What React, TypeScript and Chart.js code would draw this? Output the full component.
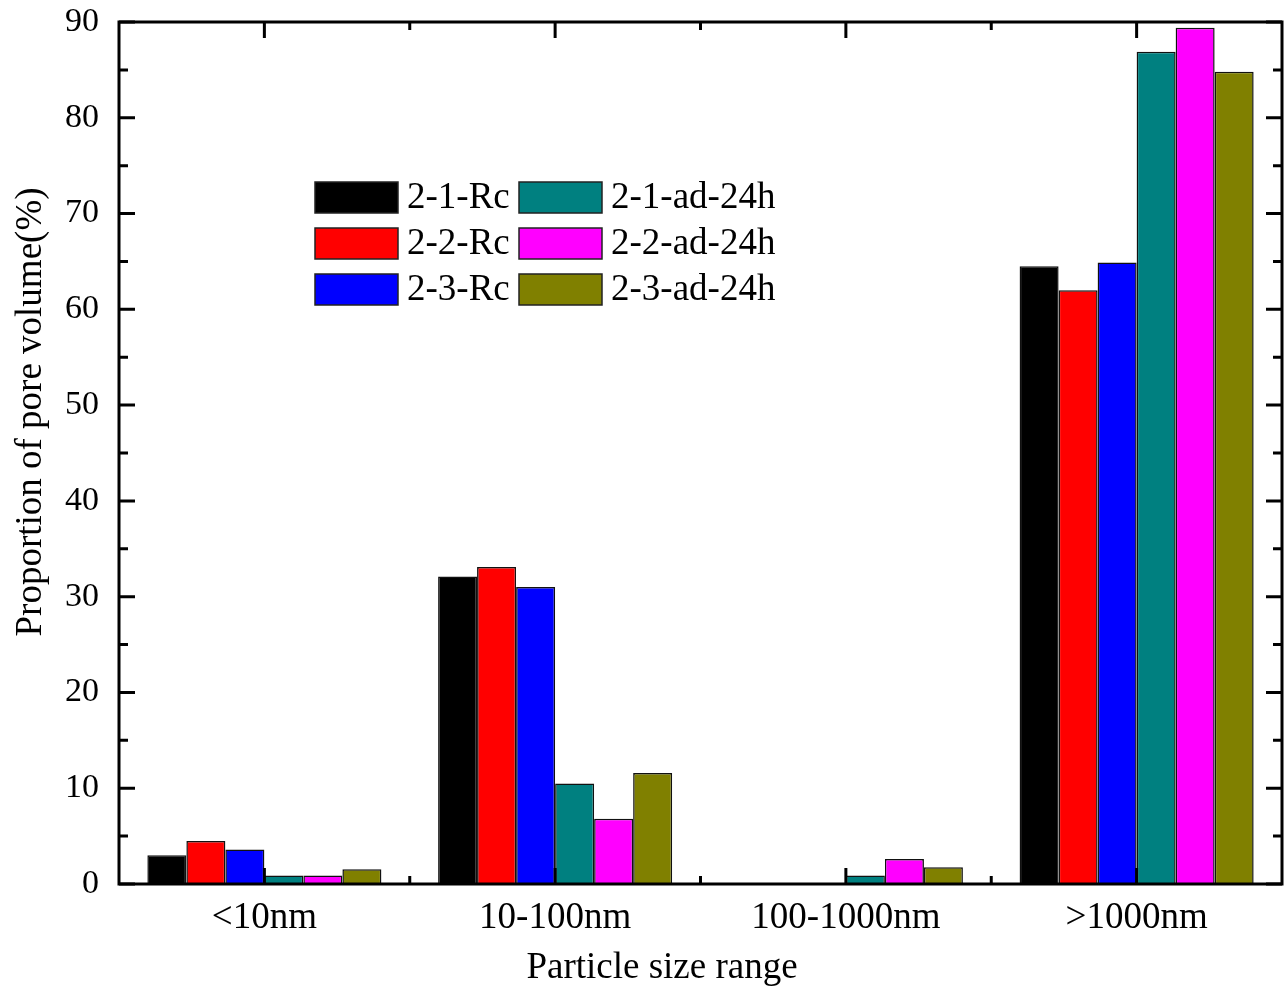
import React, { useEffect, useRef } from "react";
import { Chart, registerables } from "chart.js";

Chart.register(...registerables);

const categories = ["<10nm", "10-100nm", "100-1000nm", ">1000nm"];
const seriesNames = ["2-1-Rc", "2-2-Rc", "2-3-Rc", "2-1-ad-24h", "2-2-ad-24h", "2-3-ad-24h"];
const seriesColors = ["#000000", "#FF0000", "#0000FF", "#008080", "#FF00FF", "#808000"];
const s21Rc = [3.0, 32.1, 0, 64.5];
const s22Rc = [4.5, 33.1, 0, 62.0];
const s23Rc = [3.6, 31.0, 0, 64.9];
const s21ad = [0.9, 10.5, 0.9, 86.9];
const s22ad = [0.9, 6.8, 2.6, 89.4];
const s23ad = [1.55, 11.6, 1.75, 84.8];
const seriesValues = [s21Rc, s22Rc, s23Rc, s21ad, s22ad, s23ad];
const yTicks = [0, 10, 20, 30, 40, 50, 60, 70, 80, 90];
const xTitle = "Particle size range";
const yTitle = "Proportion of pore volume(%)";

const FONT = "'Liberation Serif', 'Times New Roman', serif";

const framePlugin = {
  id: "framePlugin",
  afterDraw(chart: any) {
    const { ctx, chartArea } = chart;
    const { left, right, top, bottom } = chartArea;
    const x = chart.scales.x;
    const y = chart.scales.y;
    ctx.save();
    ctx.strokeStyle = "#000";
    ctx.lineWidth = 3;
    ctx.lineCap = "butt";
    ctx.beginPath();
    ctx.rect(left, top, right - left, bottom - top);
    ctx.stroke();
    ctx.beginPath();
    for (let v = 0; v <= 90; v += 5) {
      const py = y.getPixelForValue(v);
      const len = v % 10 === 0 ? 16 : 9;
      ctx.moveTo(left, py);
      ctx.lineTo(left + len, py);
      ctx.moveTo(right, py);
      ctx.lineTo(right - len, py);
    }
    for (let i = 0; i < categories.length; i++) {
      const px = x.getPixelForValue(i);
      ctx.moveTo(px, bottom);
      ctx.lineTo(px, bottom - 16);
      ctx.moveTo(px, top);
      ctx.lineTo(px, top + 16);
      if (i < categories.length - 1) {
        const mx = (px + x.getPixelForValue(i + 1)) / 2;
        ctx.moveTo(mx, bottom);
        ctx.lineTo(mx, bottom - 8);
        ctx.moveTo(mx, top);
        ctx.lineTo(mx, top + 8);
      }
    }
    ctx.stroke();

    // axis titles
    ctx.fillStyle = "#000";
    ctx.font = `37px ${FONT}`;
    ctx.textAlign = "center";
    ctx.textBaseline = "middle";
    ctx.fillText(xTitle, 662, 968);
    ctx.save();
    ctx.translate(31, 412);
    ctx.rotate(-Math.PI / 2);
    ctx.fillText(yTitle, 0, 0);
    ctx.restore();

    // legend
    const boxW = 83;
    const boxH = 31;
    const colX = [315, 519];
    const rowY = [182, 228, 274];
    ctx.font = `37px ${FONT}`;
    ctx.textBaseline = "middle";
    ctx.textAlign = "left";
    for (let i = 0; i < seriesNames.length; i++) {
      const col = Math.floor(i / 3);
      const row = i % 3;
      const bx = colX[col];
      const by = rowY[row];
      ctx.fillStyle = seriesColors[i];
      ctx.fillRect(bx, by, boxW, boxH);
      ctx.lineWidth = 1.5;
      ctx.strokeStyle = "#222";
      ctx.strokeRect(bx, by, boxW, boxH);
      ctx.fillStyle = "#000";
      ctx.fillText(seriesNames[i], bx + boxW + 9, by + boxH / 2 + 1);
    }
    ctx.restore();
  },
};

export default function App() {
  const ref = useRef<HTMLCanvasElement>(null);
  useEffect(() => {
    document.body.style.margin = "0";
    const canvas = ref.current!;
    const chart = new Chart(canvas, {
      type: "bar",
      data: {
        labels: categories,
        datasets: seriesNames.map((name, i) => ({
          label: name,
          data: seriesValues[i],
          backgroundColor: seriesColors[i],
          borderColor: "#111",
          borderWidth: 1.5,
          categoryPercentage: 0.805,
          barPercentage: 1,
        })),
      },
      options: {
        responsive: false,
        animation: false,
        devicePixelRatio: 1,
        layout: { padding: { left: 0, top: 22, right: 5, bottom: 0 } },
        plugins: {
          legend: { display: false },
          tooltip: { enabled: false },
        },
        scales: {
          x: {
            grid: { display: false, drawTicks: false },
            border: { display: false },
            ticks: {
              color: "#000",
              font: { family: FONT, size: 37 },
              padding: 12,
              maxRotation: 0,
            },
            afterFit: (s: any) => {
              s.height = 108;
              s.paddingLeft = 0;
              s.paddingRight = 0;
            },
          },
          y: {
            min: 0,
            max: 90,
            grid: { display: false, drawTicks: false },
            border: { display: false },
            afterBuildTicks: (s: any) => {
              s.ticks = yTicks.map((v) => ({ value: v }));
            },
            ticks: {
              color: "#000",
              font: { family: FONT, size: 34 },
              padding: 20,
            },
            afterFit: (s: any) => {
              s.width = 119;
              s.paddingTop = 0;
              s.paddingBottom = 0;
            },
          },
        },
      },
      plugins: [framePlugin],
    });
    return () => chart.destroy();
  }, []);
  return (
    <div style={{ width: 1287, height: 992, background: "#fff" }}>
      <canvas ref={ref} width={1287} height={992} style={{ width: 1287, height: 992, display: "block" }} />
    </div>
  );
}
